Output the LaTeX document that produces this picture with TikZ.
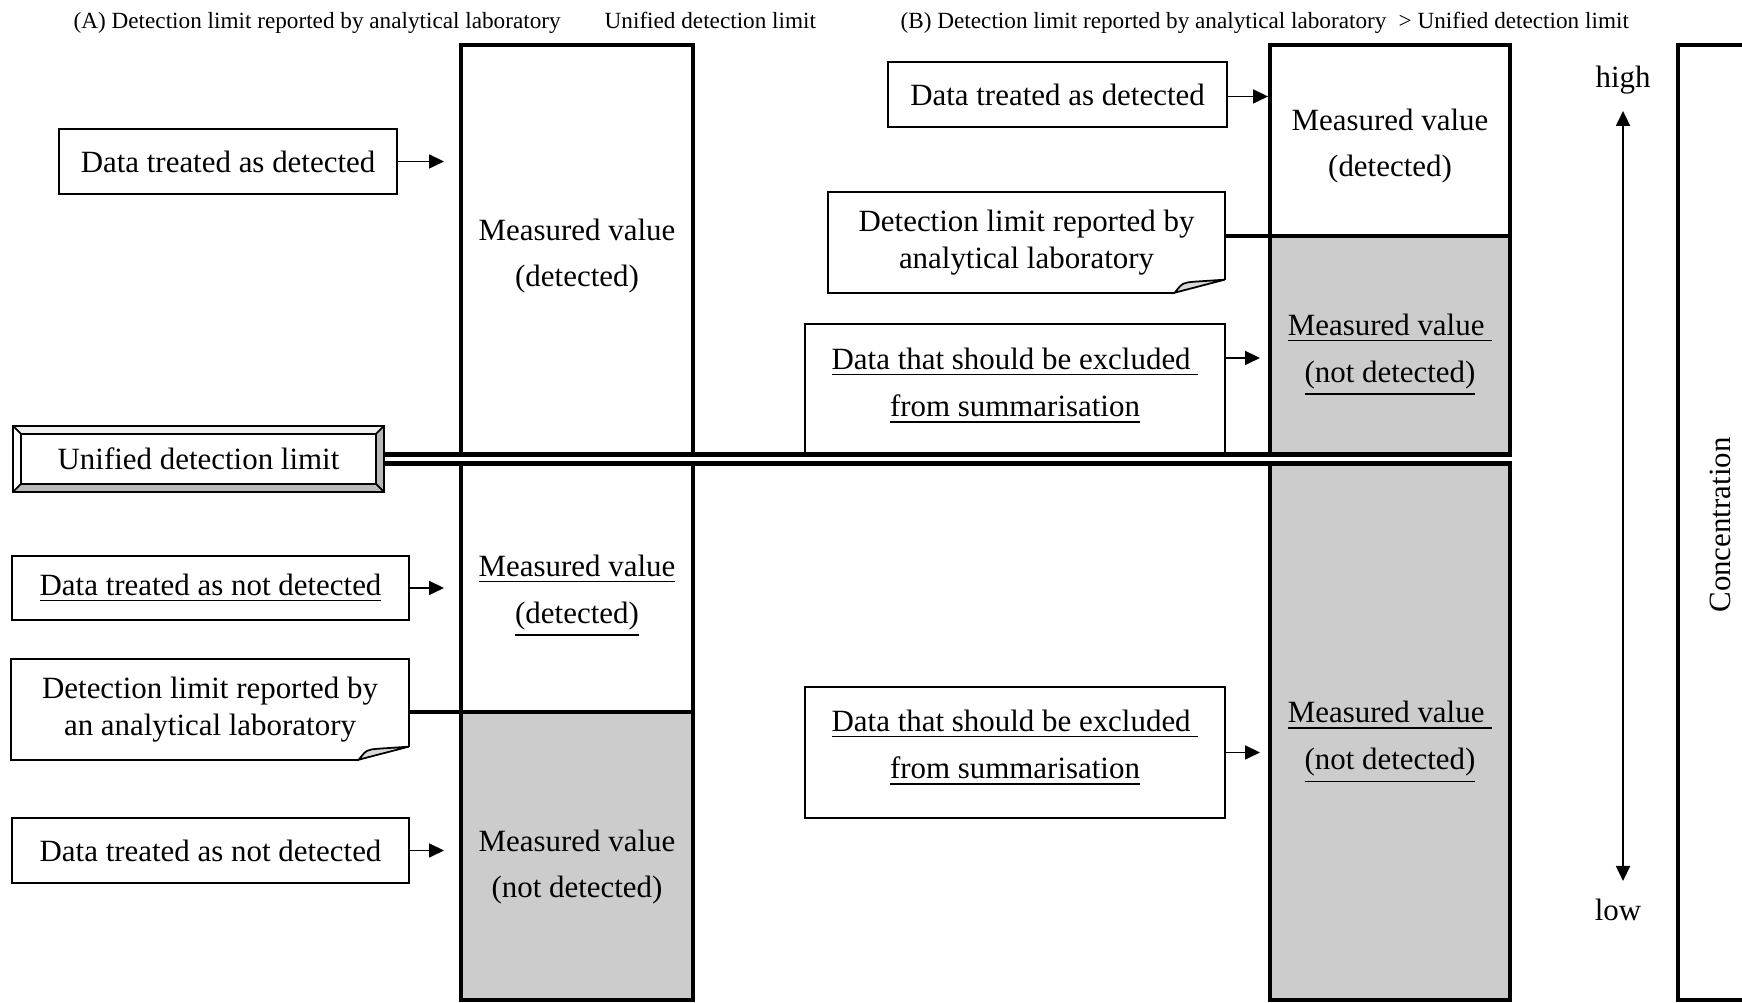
\documentclass[tikz,border=0pt]{standalone}
\usepackage{fontspec}
\setmainfont{Liberation Serif}
\usepackage{tikz}
\usetikzlibrary{arrows.meta,calc}

\tikzset{
	col/.style={draw, line width=1.3pt, inner sep=0pt, outer sep=0pt},
	box/.style={draw, line width=0.5pt, fill=white, inner sep=0pt, align=center, font=\fontsize{8.8}{13}\selectfont},
	note/.style={fill=white, inner sep=0pt, align=center, font=\fontsize{8.8}{10.6}\selectfont},
	txt/.style={inner sep=0pt, align=center, font=\fontsize{8.8}{13}\selectfont},
	utxt/.style={inner sep=0pt, align=center, font=\fontsize{8.8}{13.4}\selectfont},
	head/.style={inner sep=0pt, anchor=base west, font=\fontsize{6.6}{8}\selectfont},
	arr/.style={line width=0.5pt, -{Triangle[length=1.5mm,width=1.4mm]}},
	link/.style={line width=1.1pt},
	thinline/.style={line width=0.5pt},
	bevel/.style={draw, line width=0.5pt, fill=white, inner sep=0pt, font=\fontsize{8.8}{13}\selectfont,
		path picture={
			\fill[gray!55] (path picture bounding box.south west) -- (path picture bounding box.south east) -- (path picture bounding box.north east) -- ++(-0.08,-0.08) -- ([shift={(-0.08,0.08)}]path picture bounding box.south east) -- ([shift={(0.08,0.08)}]path picture bounding box.south west) -- cycle;
			\fill[gray!12] (path picture bounding box.north east) -- (path picture bounding box.north west) -- ++(0.08,-0.08) -- ([shift={(-0.08,-0.08)}]path picture bounding box.north east) -- cycle;
			\draw[thinline] ([shift={(0.08,0.08)}]path picture bounding box.south west) rectangle ([shift={(-0.08,-0.08)}]path picture bounding box.north east);
			\draw[thinline] (path picture bounding box.south west) -- ++(0.08,0.08);
			\draw[thinline] (path picture bounding box.north west) -- ++(0.08,-0.08);
			\draw[thinline] (path picture bounding box.north east) -- ++(-0.08,-0.08);
			\draw[thinline] (path picture bounding box.south east) -- ++(-0.08,0.08);
		}},
}

\begin{document}
\begin{tikzpicture}
	\useasboundingbox (0,0) rectangle (17.42,10.03);
	\clip (0,0) rectangle (17.42,10.03);
	
	% headings
	\node[head] (hdA) at (0.73,9.74) {(A) Detection limit reported by analytical laboratory};
	\node[head] (hdAu) at (6.04,9.74) {Unified detection limit};
	\node[head] (hdB) at (9.00,9.74) {(B) Detection limit reported by analytical laboratory};
	\node[head] (hdBu) at (13.98,9.74) {> Unified detection limit};
	
	% columns
	\node[col, minimum width=2.32cm, minimum height=6.67cm] (colAtop) at (5.77,6.245) {};
	\node[col, fill=gray!40, minimum width=2.32cm, minimum height=2.88cm] (colAbot) at (5.77,1.47) {};
	\node[col, minimum width=2.40cm, minimum height=1.91cm] (colBtop) at (13.90,8.625) {};
	\node[col, fill=gray!40, minimum width=2.40cm, minimum height=7.64cm] (colBbot) at (13.90,3.85) {};
	\draw[line width=1.3pt] (16.78,0.03) rectangle (18,9.58);
	
	\node[txt] (mvA1) at (5.77,7.47) {Measured value\\(detected)};
	\node[utxt] (mvA2) at (5.77,4.07) {\underline{Measured value}\\\underline{(detected)}};
	\node[txt] (mvA3) at (5.77,1.36) {Measured value\\(not detected)};
	\node[txt] (mvB1) at (13.90,8.57) {Measured value\\(detected)};
	\node[utxt] (mvB2) at (13.90,6.48) {\underline{Measured value\ }\\\underline{(not detected)}};
	\node[utxt] (mvB3) at (13.90,2.605) {\underline{Measured value\ }\\\underline{(not detected)}};
	
	% (A) side
	\node[box, minimum width=3.38cm, minimum height=0.65cm] (detA) at (2.28,8.415) {Data treated as detected};
	\node[box, minimum width=3.97cm, minimum height=0.64cm] (ndA1) at (2.105,4.15) {\underline{Data treated as not detected}};
	\node[box, minimum width=3.97cm, minimum height=0.65cm] (ndA2) at (2.105,1.525) {Data treated as not detected};
	\node[note, minimum width=3.96cm, minimum height=0.99cm] (dlA) at (2.10,2.935) {Detection limit reported by\\an analytical laboratory};
	\draw[thinline] ([yshift=0.13cm]dlA.south east) -- (dlA.north east) -- (dlA.north west) -- (dlA.south west) -- ([xshift=-0.5cm]dlA.south east);
	\draw[thinline, fill=gray!30] ([xshift=-0.5cm]dlA.south east) .. controls ([xshift=-0.42cm,yshift=0.1cm]dlA.south east) .. ([xshift=-0.3cm,yshift=0.11cm]dlA.south east) -- ([yshift=0.13cm]dlA.south east) -- cycle;
	
	\draw[arr, shorten >=0.17cm] (detA.east) -- (detA.east -| colAtop.west);
	\draw[arr, shorten >=0.17cm] (ndA1.east) -- (ndA1.east -| colAtop.west);
	\draw[arr, shorten >=0.17cm] (ndA2.east) -- (ndA2.east -| colAbot.west);
	\draw[link] (dlA.east |- colAbot.north) -- (colAbot.north west);
	
	% (B) side
	\node[box, minimum width=3.39cm, minimum height=0.65cm] (detB) at (10.575,9.085) {Data treated as detected};
	\node[note, minimum width=3.95cm, minimum height=0.99cm] (dlB) at (10.265,7.605) {Detection limit reported by\\analytical laboratory};
	\draw[thinline] ([yshift=0.13cm]dlB.south east) -- (dlB.north east) -- (dlB.north west) -- (dlB.south west) -- ([xshift=-0.5cm]dlB.south east);
	\draw[thinline, fill=gray!30] ([xshift=-0.5cm]dlB.south east) .. controls ([xshift=-0.42cm,yshift=0.1cm]dlB.south east) .. ([xshift=-0.3cm,yshift=0.11cm]dlB.south east) -- ([yshift=0.13cm]dlB.south east) -- cycle;
	\node[box, minimum width=4.20cm, minimum height=1.31cm] (exB1) at (10.15,6.135) {};
	\node[utxt] (exB1t) at (10.15,6.17) {\underline{Data that should be excluded\ }\\\underline{from summarisation}};
	\node[box, minimum width=4.20cm, minimum height=1.31cm] (exB2) at (10.15,2.505) {};
	\node[utxt] (exB2t) at (10.15,2.55) {\underline{Data that should be excluded\ }\\\underline{from summarisation}};
	
	\draw[arr, shorten >=0.02cm] ([yshift=-0.02cm]detB.east) -- ([yshift=-0.02cm]detB.east -| colBtop.west);
	\draw[link] (dlB.east |- colBtop.south) -- (colBtop.south west);
	\draw[arr, shorten >=0.1cm] ([yshift=0.315cm]exB1.east) -- ([yshift=0.315cm]exB1.east -| colBbot.west);
	\draw[arr, shorten >=0.1cm] (exB2.east) -- (exB2.east -| colBbot.west);
	
	% unified detection limit
	\node[bevel, minimum width=3.71cm, minimum height=0.66cm] (udl) at (1.985,5.44) {Unified detection limit};
	\coordinate (udlend) at (15.123,5.44);
	\fill[white] ([yshift=-0.06cm]udl.east) rectangle ([xshift=0.03cm,yshift=0.06cm]udlend);
	\draw[line width=1.5pt] ([yshift=0.045cm]udl.east) -- ([yshift=0.045cm]udlend);
	\draw[line width=1.5pt] ([yshift=-0.045cm]udl.east) -- ([yshift=-0.045cm]udlend);
	
	% concentration axis
	\node[txt] (high) at (16.23,9.23) {high};
	\node[txt] (low) at (16.18,0.93) {low};
	\coordinate (hiend) at (16.23,8.92);
	\coordinate (loend) at (16.23,1.22);
	\draw[line width=0.5pt, {Triangle[length=1.5mm,width=1.4mm]}-{Triangle[length=1.5mm,width=1.4mm]}] (loend) -- (hiend);
	\node[txt, rotate=90] (conc) at (17.20,4.78) {Concentration};
\end{tikzpicture}
\end{document}
